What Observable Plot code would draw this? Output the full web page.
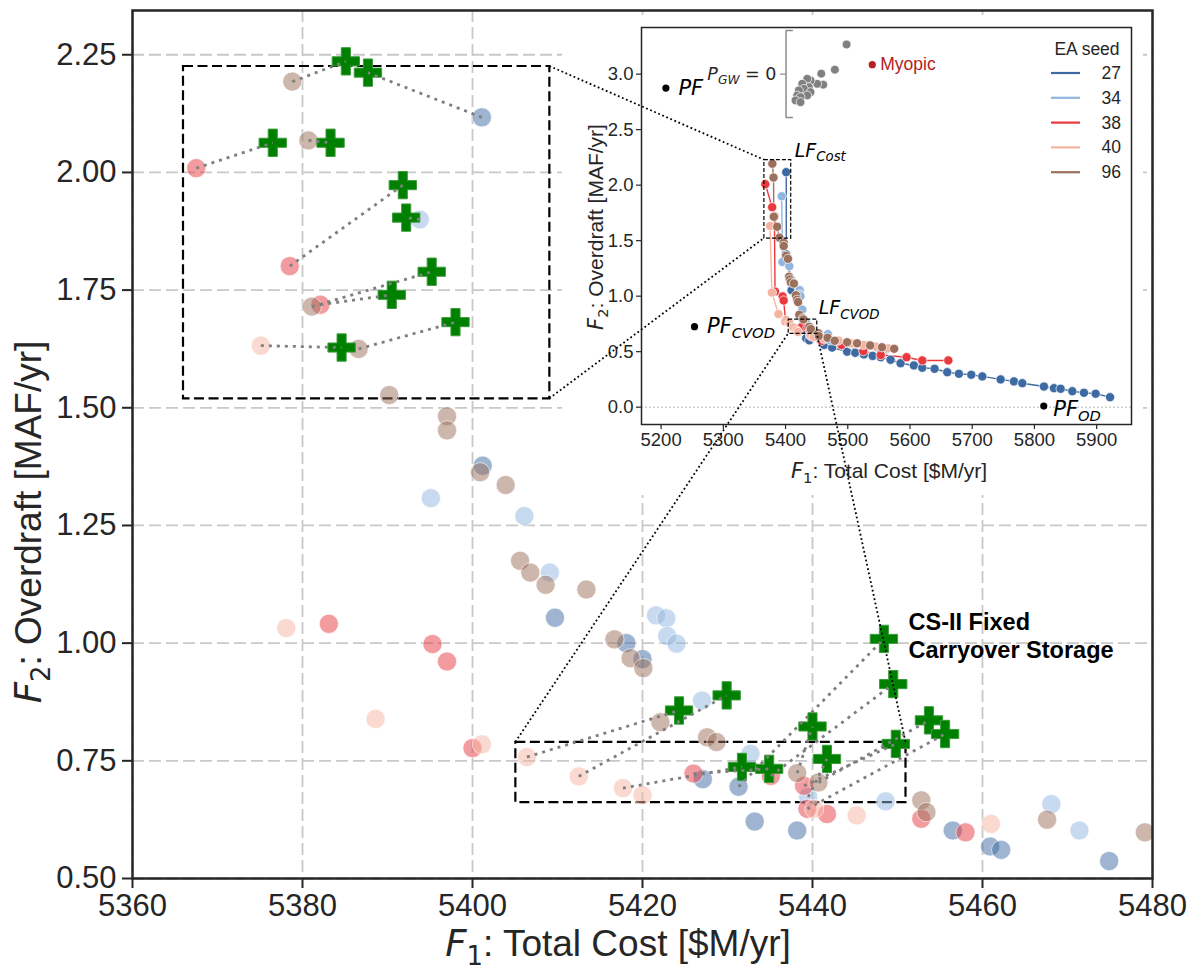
<!DOCTYPE html>
<html><head><meta charset="utf-8">
<script src="https://cdn.jsdelivr.net/npm/d3@7"></script>
<script src="https://cdn.jsdelivr.net/npm/@observablehq/plot@0.6"></script>
<style>
body{margin:0;background:#fff;}
#wrap{position:relative;width:1192px;height:972px;overflow:hidden;background:#fff;}
#wrap svg{position:absolute;}
</style></head><body><div id="wrap"></div>
<script>
const FONT = "'Liberation Sans', Arial, Helvetica, sans-serif";
const MATH = "'DejaVu Sans', sans-serif";

// ---- series ----
const seeds = ["27", "34", "38", "40", "96"];
const seedColors = ["#3d6aa2", "#91b5df", "#e8393f", "#f5b3a1", "#9b705c"];

const seed27 = [[5401.1,2.117],[5401.2,1.377],[5409.7,1.054],[5418.1,1.000],[5420.0,0.966],[5427.1,0.711],[5431.3,0.695],[5433.2,0.621],[5438.2,0.602],[5456.5,0.602],[5460.9,0.568],[5462.2,0.561],[5474.9,0.537],
  [5499,0.50],[5512,0.49],[5526,0.475],[5540,0.462],[5553,0.45],[5568.8,0.427],[5584.9,0.396],[5606.3,0.376],[5619.7,0.355],[5639.5,0.346],[5659.9,0.315],[5678.6,0.301],[5698.5,0.292],[5716.2,0.277],[5745.7,0.250],[5767.1,0.232],[5780.5,0.216],[5815.3,0.186],[5831.4,0.171],[5842.1,0.166],[5860.9,0.144],[5879.6,0.130],[5898.4,0.121],[5921.5,0.090]];
const seed34 = [[5393.8,1.900],[5395.1,1.308],[5406.1,1.270],[5409.1,1.150],[5421.6,1.059],[5422.8,1.053],[5422.9,1.015],[5424.0,0.999],[5427.0,0.878],[5432.7,0.765],[5439.5,0.673],[5448.6,0.664],[5468.1,0.658],[5471.4,0.602],
  [5485,0.59],[5505,0.57],[5531,0.556],[5550,0.53],[5562,0.52]];
const seed38 = [[5367.5,2.009],[5378.5,1.801],[5382.1,1.719],[5383.1,1.041],[5395.3,0.998],[5397.0,0.961],[5400.0,0.777],[5426.0,0.723],[5435.1,0.718],[5439.0,0.697],[5439.4,0.648],[5441.7,0.637],[5452.8,0.627],[5458.0,0.598],
  [5490,0.56],[5525,0.505],[5553,0.47],[5594.5,0.45],[5619.8,0.421],[5661.6,0.421]];
const seed40 = [[5375.1,1.632],[5378.1,1.032],[5388.6,0.839],[5401.1,0.785],[5406.4,0.758],[5412.5,0.717],[5417.7,0.692],[5420.0,0.677],[5440.2,0.648],[5445.2,0.634],[5461.0,0.616],
  [5485,0.60],[5505,0.575],[5525,0.56],[5545,0.545],[5565,0.53]];
const seed96 = [[5378.8,2.193],[5380.7,2.068],[5381.1,1.715],[5386.6,1.625],[5390.2,1.527],[5397.0,1.482],[5397.0,1.452],[5400.9,1.363],[5403.9,1.336],[5405.6,1.175],[5406.8,1.150],[5408.6,1.124],[5413.4,1.114],[5416.7,1.008],[5418.6,0.968],[5420.1,0.947],[5422.1,0.832],[5427.6,0.800],[5428.7,0.790],[5438.2,0.724],[5440.7,0.704],[5452.8,0.666],[5453.4,0.641],[5467.6,0.625],[5479.1,0.598],
  [5499,0.585],[5515,0.575],[5536,0.556],[5555,0.54],[5574.6,0.526]];
const seedSeries = [seed27, seed34, seed38, seed40, seed96];

// CS-II fixed carryover storage solutions and the solutions they come from
const cs2Cross = [[5385.1,2.236],[5387.7,2.212],[5376.5,2.063],[5383.3,2.063],[5391.8,1.973],[5392.2,1.904],[5395.2,1.789],[5390.5,1.740],[5384.6,1.628],[5398.0,1.682],
  [5424.3,0.857],[5429.9,0.889],[5431.7,0.737],[5434.9,0.733],[5448.4,1.009],[5449.5,0.913],[5440.0,0.823],[5441.7,0.754],[5449.8,0.786],[5453.7,0.836],[5455.6,0.807]];
const cs2Origin = [[5378.8,2.193],[5401.1,2.117],[5367.5,2.009],[5380.7,2.068],[5378.5,1.801],[5393.8,1.900],[5381.1,1.715],[5382.1,1.719],[5375.1,1.632],[5386.6,1.625],
  [5406.4,0.758],[5412.5,0.717],[5417.7,0.692],[5426.0,0.723],[5431.3,0.695],[5435.1,0.718],[5438.2,0.724],[5439.5,0.673],[5439.0,0.697],[5440.7,0.704],[5439.4,0.648]];

// P_GW = 0 solutions (inset, grey)
const gwX = [5498.1,5479.3,5457.4,5460.6,5451.0,5440.2,5434.9,5437.5,5426.8,5429.4,5440.2,5421.4,5418.8,5434.9,5424.1,5416.1,5424.1];
const gwY = [3.267,3.040,3.004,2.905,2.913,2.943,2.958,2.883,2.913,2.868,2.838,2.853,2.808,2.808,2.793,2.763,2.748];
const gwAxis = {x: 5400.8, cap: 5411, tickEnd: 5391, top: 3.393, bottom: 2.61, tick: 3.0};

// reference points
const refNames = ["PF", "PF_CVOD", "PF_OD"];
const refX = [5207.7, 5253.7, 5815];
const refY = [2.874, 0.725, 0.01];
const myopic = {x: 5539.4, y: 3.085, label: "Myopic"};

// zoom windows
const zoomBoxes = [
  {name: "Cost", x1: 5366.0, x2: 5409.1, y1: 1.519, y2: 2.225},
  {name: "CVOD", x1: 5405.1, x2: 5451.0, y1: 0.661, y2: 0.789}
];
const annot = [{x: 5451.3, y: 1.018, text: "CS-II Fixed\nCarryover Storage"}];

// ticks
const xTicksMain = [5360, 5380, 5400, 5420, 5440, 5460, 5480];
const yTicksMain = [0.5, 0.75, 1.0, 1.25, 1.5, 1.75, 2.0, 2.25];
const xTicksInset = [5200, 5300, 5400, 5500, 5600, 5700, 5800, 5900];
const yTicksInset = [0, 0.5, 1.0, 1.5, 2.0, 2.5, 3.0];

// ---- tables ----
const rows = [];
seedSeries.forEach((arr, i) => arr.slice().sort((a, b) => a[0] - b[0]).forEach(([x, y]) => rows.push({seed: seeds[i], x, y})));
const crosses = cs2Cross.map(([x, y]) => ({x, y}));
const links = cs2Cross.map((c, i) => ({x1: cs2Origin[i][0], y1: cs2Origin[i][1], x2: c[0], y2: c[1]}));
const gw = gwX.map((x, i) => ({x, y: gwY[i]}));
const refs = refNames.map((n, i) => ({name: n, x: refX[i], y: refY[i]}));
const gwBracket = [{x: gwAxis.cap, y: gwAxis.top}, {x: gwAxis.x, y: gwAxis.top}, {x: gwAxis.x, y: gwAxis.bottom}, {x: gwAxis.cap, y: gwAxis.bottom}];
const gwTick = [{x1: gwAxis.tickEnd, x2: gwAxis.x, y1: gwAxis.tick, y2: gwAxis.tick}];

const wrap = document.getElementById("wrap");

// ---- main chart ----
const main = Plot.plot({
  width: 1192, height: 972,
  marginLeft: 132, marginRight: 40, marginTop: 10, marginBottom: 94,
  style: {fontFamily: FONT, background: "white", color: "#262626"},
  x: {domain: [5360, 5480]},
  y: {domain: [0.5, 2.344]},
  color: {domain: seeds, range: seedColors},
  marks: [
    Plot.gridX(xTicksMain, {stroke: "#c8c8c8", strokeOpacity: 1, strokeWidth: 1.8, strokeDasharray: "12,5"}),
    Plot.gridY(yTicksMain, {stroke: "#c8c8c8", strokeOpacity: 1, strokeWidth: 1.8, strokeDasharray: "12,5"}),
    Plot.rect(zoomBoxes, {x1: "x1", x2: "x2", y1: "y1", y2: "y2", fill: "none", stroke: "black", strokeWidth: 2.2, strokeDasharray: "10,4.5"}),
    Plot.dot(rows, {x: "x", y: "y", fill: "seed", r: 9.6, fillOpacity: 0.5, stroke: "white", strokeOpacity: 0.6, strokeWidth: 1, clip: true}),
    Plot.dot(crosses, {x: "x", y: "y", symbol: "cross", r: 11.5, fill: "#008000", stroke: "#3d9b3d", strokeWidth: 1}),
    Plot.link(links, {x1: "x1", y1: "y1", x2: "x2", y2: "y2", stroke: "#7f7f7f", strokeWidth: 2.8, strokeDasharray: "3,5"}),
    Plot.text(annot, {x: "x", y: "y", text: "text", textAnchor: "start", lineAnchor: "middle", lineHeight: 1.2, fontSize: 23.5, fontWeight: "bold", fill: "black"}),
    Plot.frame({stroke: "#262626", strokeWidth: 2.5}),
    Plot.axisX(xTicksMain, {tickSize: 10, tickPadding: 5, fontSize: 31, strokeWidth: 2, tickFormat: d3.format("d"), label: null}),
    Plot.axisY(yTicksMain, {tickSize: 10, tickPadding: 6, fontSize: 31, strokeWidth: 2, tickFormat: d3.format(".2f"), label: null})
  ]
});
main.style.left = "0px"; main.style.top = "0px";
wrap.appendChild(main);

// ---- inset ----
const INSET_LEFT = 562, INSET_TOP = 15;
const inset = Plot.plot({
  width: 581, height: 480,
  marginLeft: 79, marginRight: 12, marginTop: 12, marginBottom: 71,
  style: {fontFamily: FONT, background: "white", color: "#262626"},
  x: {type: "linear", domain: [5168.5, 5956]},
  y: {type: "linear", domain: [-0.156, 3.42]},
  color: {domain: seeds, range: seedColors},
  marks: [
    Plot.ruleY([0], {stroke: "#b5b5b5", strokeWidth: 1, strokeDasharray: "2,2"}),
    Plot.line(rows, {x: "x", y: "y", z: "seed", stroke: "seed", strokeWidth: 1.4}),
    Plot.dot(rows, {x: "x", y: "y", fill: "seed", r: 4.6, stroke: "white", strokeWidth: 0.7}),
    Plot.line(gwBracket, {x: "x", y: "y", stroke: "#8c8c8c", strokeWidth: 1.5}),
    Plot.link(gwTick, {x1: "x1", x2: "x2", y1: "y1", y2: "y2", stroke: "#8c8c8c", strokeWidth: 1.2}),
    Plot.dot(gw, {x: "x", y: "y", fill: "#808080", r: 4.4, stroke: "white", strokeWidth: 0.7}),
    Plot.rect(zoomBoxes, {x1: "x1", x2: "x2", y1: "y1", y2: "y2", fill: "none", stroke: "black", strokeWidth: 1.2, strokeDasharray: "4,2"}),
    Plot.dot(refs, {x: "x", y: "y", fill: "black", r: 3.6}),
    Plot.dot([myopic], {x: "x", y: "y", fill: "#b22222", r: 3.6}),
    Plot.text([myopic], {x: "x", y: "y", text: "label", dx: 8, textAnchor: "start", fill: "#b22222", fontSize: 17.5}),
    Plot.frame({stroke: "#262626", strokeWidth: 1.5}),
    Plot.axisX(xTicksInset, {tickSize: 5, tickPadding: 3, fontSize: 18.5, strokeWidth: 1.2, tickFormat: d3.format("d"), label: null}),
    Plot.axisY(yTicksInset, {tickSize: 5, tickPadding: 3, fontSize: 18.5, strokeWidth: 1.2, tickFormat: d3.format(".1f"), label: null})
  ]
});
inset.style.left = INSET_LEFT + "px"; inset.style.top = INSET_TOP + "px";
wrap.appendChild(inset);

// ---- rich text helper (italic math letters + subscripts) ----
function rich(parent, {x, y, size, anchor = "start", rotate = 0, fill = "#262626", parts}) {
  const t = parent.append("text")
    .attr("transform", `translate(${x},${y}) rotate(${rotate})`)
    .attr("text-anchor", anchor).attr("font-size", size)
    .attr("fill", fill).attr("font-family", FONT);
  let shifted = false;
  for (const p of parts) {
    const ts = t.append("tspan").text(p.t);
    if (p.italic) ts.attr("font-style", "italic").attr("font-family", MATH);
    if (p.math) ts.attr("font-family", MATH);
    if (p.sub) {
      ts.attr("font-size", size * 0.7);
      if (!shifted) { ts.attr("dy", size * 0.24); shifted = true; }
    } else if (shifted) { ts.attr("dy", -size * 0.24); shifted = false; }
  }
  return t;
}

// main axis labels
const ms = d3.select(main);
rich(ms, {x: 618, y: 956, size: 37, anchor: "middle", parts: [{t: "F", italic: true}, {t: "1", sub: true, math: true}, {t: ": Total Cost [$M/yr]"}]});
rich(ms, {x: 41, y: 522, size: 37, anchor: "middle", rotate: -90, parts: [{t: "F", italic: true}, {t: "2", sub: true, math: true}, {t: ": Overdraft [MAF/yr]"}]});

// inset labels
const is = d3.select(inset);
const ix = inset.scale("x"), iy = inset.scale("y");
rich(is, {x: 327, y: 463, size: 21, anchor: "middle", parts: [{t: "F", italic: true}, {t: "1", sub: true, math: true}, {t: ": Total Cost [$M/yr]"}]});
rich(is, {x: 41, y: 212, size: 21, anchor: "middle", rotate: -90, parts: [{t: "F", italic: true}, {t: "2", sub: true, math: true}, {t: ": Overdraft [MAF/yr]"}]});

// reference point labels
const subOf = {PF: null, PF_CVOD: "CVOD", PF_OD: "OD"};
const offs = {PF: [13, 7], PF_CVOD: [13, 7], PF_OD: [10, 10]};
refs.forEach(r => {
  const parts = [{t: "PF", italic: true}];
  if (subOf[r.name]) parts.push({t: subOf[r.name], italic: true, sub: true});
  rich(is, {x: ix.apply(r.x) + offs[r.name][0], y: iy.apply(r.y) + offs[r.name][1], size: 21, fill: "black", parts});
});
// zoom box labels
rich(is, {x: ix.apply(zoomBoxes[0].x2) + 4, y: iy.apply(zoomBoxes[0].y2) - 3, size: 19, fill: "black",
  parts: [{t: "LF", italic: true}, {t: "Cost", italic: true, sub: true}]});
rich(is, {x: ix.apply(zoomBoxes[1].x2) + 2, y: iy.apply(zoomBoxes[1].y2) - 5, size: 19, fill: "black",
  parts: [{t: "LF", italic: true}, {t: "CVOD", italic: true, sub: true}]});
// P_GW = 0 tick label
rich(is, {x: ix.apply(gwAxis.tickEnd) - 3, y: iy.apply(gwAxis.tick) + 6, size: 17.5, anchor: "end", fill: "#262626",
  parts: [{t: "P", italic: true}, {t: "GW", italic: true, sub: true}, {t: " = 0", math: true}]});

// legend
const lg = is.append("g").attr("font-family", FONT).attr("font-size", 17.5).attr("fill", "#262626");
lg.append("text").attr("x", 525).attr("y", 40).attr("text-anchor", "middle").text("EA seed");
seeds.forEach((s, i) => {
  const yy = 58 + i * 24.8;
  lg.append("line").attr("x1", 489).attr("x2", 518).attr("y1", yy).attr("y2", yy)
    .attr("stroke", seedColors[i]).attr("stroke-width", 2.2);
  lg.append("text").attr("x", 559).attr("y", yy + 6).attr("text-anchor", "end").text(s);
});

// ---- connector lines between zoom boxes ----
const mx = main.scale("x"), my = main.scale("y");
const ov = d3.select(wrap).append("svg").attr("width", 1192).attr("height", 972)
  .style("left", "0px").style("top", "0px").style("pointer-events", "none");
const gx = v => ix.apply(v) + INSET_LEFT, gy = v => iy.apply(v) + INSET_TOP;
const b0 = zoomBoxes[0], b1 = zoomBoxes[1];
const conns = [
  [mx.apply(b0.x2), my.apply(b0.y2), gx(b0.x1), gy(b0.y2)],
  [mx.apply(b0.x2), my.apply(b0.y1), gx(b0.x1), gy(b0.y1)],
  [mx.apply(b1.x1), my.apply(b1.y2), gx(b1.x1), gy(b1.y1)],
  [mx.apply(b1.x2), my.apply(b1.y2), gx(b1.x2), gy(b1.y1)]
];
ov.selectAll("line").data(conns).join("line")
  .attr("x1", d => d[0]).attr("y1", d => d[1]).attr("x2", d => d[2]).attr("y2", d => d[3])
  .attr("stroke", "black").attr("stroke-width", 1.8).attr("stroke-dasharray", "1.8,2.6");
</script></body></html>
